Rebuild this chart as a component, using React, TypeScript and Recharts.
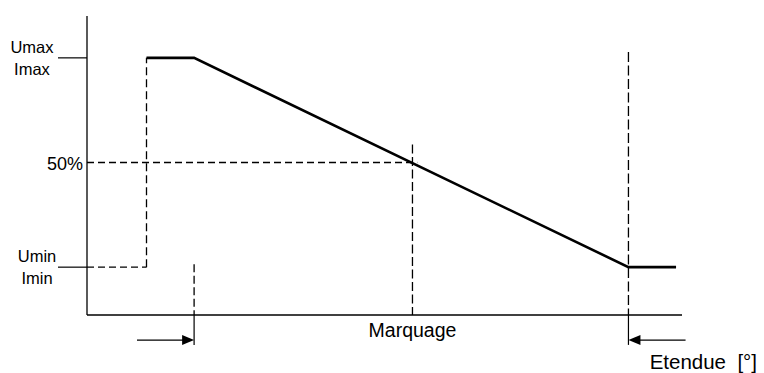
import { ComposedChart, Label, Line, ReferenceLine, XAxis, YAxis } from "recharts";

const FONT = "'Liberation Sans', Arial, sans-serif";

// control profile: angle position -> output level (% of span)
const PROFILE_X = [10, 18, 91, 99];
const PROFILE_Y = [86, 86, 16, 16];

const Y_TICKS = [16, 51, 86];
const Y_TICK_LABELS = [["Umin", "Imin"], ["50%"], ["Umax", "Imax"]];
const X_TICKS = [54.7];
const X_TICK_LABELS = ["Marquage"];
const RANGE_LABEL = "Etendue  [°]";

// guide segments [x1, y1, x2, y2, dash]
const DASHED_GUIDES = [
  [0, 16, 10, 16, "7 4"],
  [10, 16, 10, 86, "8 4"],
  [0, 51, 55.5, 51, "7 4"],
  [18, 17, 18, 0, "8 3.5"],
  [54.7, 57, 54.7, 0, "9 3.5"],
  [91, 88, 91, 0, "10 3.5"],
] as const;
const SOLID_GUIDES = [
  [18, 0, 18, -10],
  [91, 0, 91, -10],
];
const ARROWS = [
  [8.4, -8.4, 18, -8.4],
  [100.6, -8.4, 91, -8.4],
];

const profile = PROFILE_X.map((x, i) => ({ x, y: PROFILE_Y[i] }));

function LevelTick(props: any) {
  const { x, y, payload } = props;
  const idx = Y_TICKS.indexOf(payload.value);
  const lines = Y_TICK_LABELS[idx] || [];
  if (lines.length === 1) {
    return (
      <text
        x={x - 4}
        y={y + 7}
        textAnchor="end"
        fontSize={18}
        fontFamily={FONT}
        fill="#000"
      >
        {lines[0]}
      </text>
    );
  }
  const cx = idx === 0 ? x - 50 : x - 55;
  return (
    <g>
      <line x1={x - 29} y1={y} x2={x} y2={y} stroke="#000" strokeWidth={1.2} />
      <text x={cx} y={y - 5} textAnchor="middle" fontSize={16.5} fontFamily={FONT} fill="#000">
        {lines[0]}
      </text>
      <text x={cx} y={y + 17} textAnchor="middle" fontSize={16.5} fontFamily={FONT} fill="#000">
        {lines[1]}
      </text>
    </g>
  );
}

function arrowShape(p: any) {
  const { x1, y1, x2, y2 } = p;
  const dir = Math.sign(x2 - x1);
  return (
    <g>
      <line x1={x1} y1={y1} x2={x2 - dir * 10} y2={y2} stroke="#000" strokeWidth={1.3} />
      <polygon
        points={`${x2},${y2} ${x2 - dir * 12},${y2 - 5} ${x2 - dir * 12},${y2 + 5}`}
        fill="#000"
      />
    </g>
  );
}

function RangeLabel(props: any) {
  const vb = props.viewBox;
  return (
    <text
      x={vb.x + vb.width + 75}
      y={vb.y + 54}
      textAnchor="end"
      fontSize={20.5}
      fontFamily={FONT}
      fill="#000"
      style={{ whiteSpace: "pre" }}
    >
      {RANGE_LABEL}
    </text>
  );
}

export default function App() {
  return (
    <div style={{ position: "absolute", left: 0, top: 0, background: "#fff" }}>
      <ComposedChart
        width={764}
        height={373}
        data={profile}
        margin={{ top: 16, right: 82, bottom: 0, left: 0 }}
      >
        <XAxis
          dataKey="x"
          type="number"
          domain={[0, 100]}
          allowDataOverflow
          ticks={X_TICKS}
          tickFormatter={(v: number) => X_TICK_LABELS[X_TICKS.indexOf(v)] ?? ""}
          tick={{ fill: "#000", fontSize: 19.5, fontFamily: FONT }}
          tickLine={false}
          tickSize={6}
          tickMargin={2}
          axisLine={{ stroke: "#000", strokeWidth: 1.3 }}
          height={58}
        >
          <Label content={<RangeLabel />} />
        </XAxis>
        <YAxis
          type="number"
          domain={[0, 100]}
          allowDataOverflow
          ticks={Y_TICKS}
          tick={<LevelTick />}
          tickLine={false}
          tickSize={0}
          tickMargin={0}
          axisLine={{ stroke: "#000", strokeWidth: 1.3 }}
          width={87}
        />
        {DASHED_GUIDES.map(([x1, y1, x2, y2, dash], i) => (
          <ReferenceLine
            key={`d${i}`}
            segment={[
              { x: x1, y: y1 },
              { x: x2, y: y2 },
            ]}
            ifOverflow="visible"
            stroke="#000"
            strokeWidth={1.3}
            strokeDasharray={dash}
          />
        ))}
        {SOLID_GUIDES.map(([x1, y1, x2, y2], i) => (
          <ReferenceLine
            key={`s${i}`}
            segment={[
              { x: x1, y: y1 },
              { x: x2, y: y2 },
            ]}
            ifOverflow="visible"
            stroke="#000"
            strokeWidth={1.2}
          />
        ))}
        {ARROWS.map(([x1, y1, x2, y2], i) => (
          <ReferenceLine
            key={`a${i}`}
            segment={[
              { x: x1, y: y1 },
              { x: x2, y: y2 },
            ]}
            ifOverflow="visible"
            shape={arrowShape}
          />
        ))}
        <Line
          dataKey="y"
          type="linear"
          stroke="#000"
          strokeWidth={2.6}
          dot={false}
          isAnimationActive={false}
        />
      </ComposedChart>
    </div>
  );
}
